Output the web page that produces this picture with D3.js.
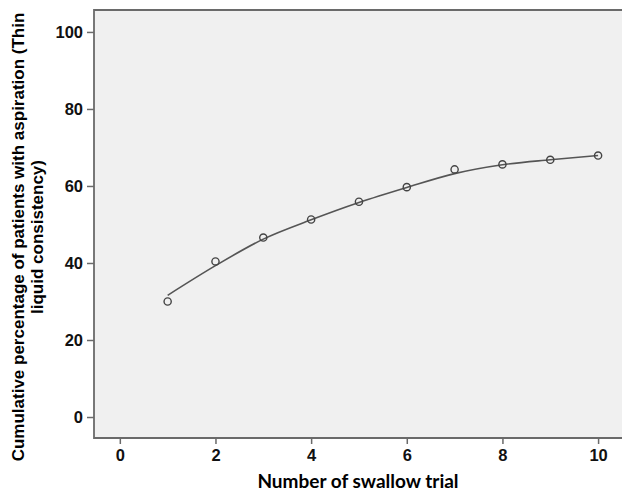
<!DOCTYPE html>
<html>
<head>
<meta charset="utf-8">
<script src="https://cdn.jsdelivr.net/npm/d3@7"></script>
<style>
  body { margin: 0; background: #fff; }
  .tick text { font-family: "Liberation Sans", Arial, sans-serif; font-size: 16.5px; font-weight: bold; fill: #111; }
</style>
</head>
<body>
<div id="chart"></div>
<script>
// data
var trials = [1, 2, 3, 4, 5, 6, 7, 8, 9, 10];
var observed = [30.0, 40.4, 46.6, 51.3, 55.9, 59.7, 64.3, 65.6, 66.8, 67.9];
var fitted = [31.6, 39.3, 46.2, 51.2, 55.7, 59.6, 63.2, 65.5, 66.8, 67.9];
var xTicks = [0, 2, 4, 6, 8, 10];
var yTicks = [0, 20, 40, 60, 80, 100];

// set the dimensions and margins of the graph
var margin = {top: 10, right: 0, bottom: 56, left: 94},
    width = 622 - margin.left - margin.right,
    height = 494 - margin.top - margin.bottom;

var x = d3.scaleLinear().domain([-0.54, 10.5]).range([0, width]);
var y = d3.scaleLinear().domain([-5.45, 105.7]).range([height, 0]);

var root = d3.select("#chart").append("svg")
    .attr("width", 622)
    .attr("height", 494);

var svg = root.append("g")
    .attr("transform", "translate(" + margin.left + "," + margin.top + ")");

// plot background
svg.append("rect")
    .attr("width", width + 2)
    .attr("height", height)
    .style("fill", "#f0f0f0");

// frame (left, top, bottom)
svg.append("path")
    .attr("d", "M" + (width + 2) + ",0H0V" + height + "H" + (width + 2))
    .style("fill", "none")
    .style("stroke", "#6a6a6a")
    .style("stroke-width", 1.8);

// Add x axis
var xAxis = svg.append("g")
    .attr("transform", "translate(0," + height + ")")
    .call(d3.axisBottom(x).tickValues(xTicks).tickSize(6).tickPadding(5));
xAxis.select(".domain").remove();
xAxis.selectAll(".tick line").style("stroke", "#6a6a6a").style("stroke-width", 1.5);

// Add y axis
var yAxis = svg.append("g")
    .call(d3.axisLeft(y).tickValues(yTicks).tickSize(7).tickPadding(4));
yAxis.select(".domain").remove();
yAxis.selectAll(".tick line").style("stroke", "#6a6a6a").style("stroke-width", 1.5);

// fitted line
var line = d3.line()
    .x(function(d, i) { return x(trials[i]); })
    .y(function(d) { return y(d); })
    .curve(d3.curveMonotoneX);

svg.append("path")
    .datum(fitted)
    .attr("d", line)
    .style("fill", "none")
    .style("stroke", "#555")
    .style("stroke-width", 1.6);

// Add dots
svg.append("g")
  .selectAll("circle")
  .data(observed)
  .enter()
  .append("circle")
    .attr("cx", function(d, i) { return x(trials[i]); })
    .attr("cy", function(d) { return y(d); })
    .attr("r", 3.6)
    .style("fill", "none")
    .style("stroke", "#444")
    .style("stroke-width", 1.4);

// Add x axis label
root.append("text")
    .attr("x", 358)
    .attr("y", 488)
    .style("text-anchor", "middle")
    .style("font-family", "Lato, 'Open Sans', sans-serif")
    .style("font-weight", "bold")
    .style("font-size", "19px")
    .text("Number of swallow trial");

// Add y axis label (two lines)
var yLabel = root.append("text")
    .attr("transform", "translate(0,237) rotate(-90)")
    .style("text-anchor", "middle")
    .style("font-family", "'Liberation Sans', Arial, sans-serif")
    .style("font-weight", "bold")
    .style("font-size", "17px");

yLabel.append("tspan")
    .attr("x", 0)
    .attr("y", 24)
    .text("Cumulative percentage of patients with aspiration (Thin");
yLabel.append("tspan")
    .attr("x", 0)
    .attr("y", 43)
    .text("liquid consistency)");
</script>
</body>
</html>
